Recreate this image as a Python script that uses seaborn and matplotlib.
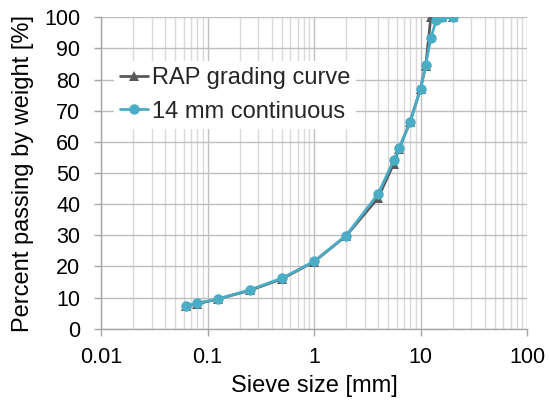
import matplotlib
matplotlib.use("Agg")
import matplotlib.pyplot as plt
import seaborn as sns
import pandas as pd
import numpy as np
from matplotlib.ticker import LogLocator, FixedLocator, NullFormatter

sieve_mm = [0.063, 0.08, 0.125, 0.25, 0.5, 1, 2, 4, 5.6, 6.3, 8, 10, 11.2, 12.5, 14, 16, 20]
rap_passing = [7.2, 8.0, 9.5, 12.3, 16.0, 21.5, 29.8, 42.0, 53.0, 57.8, 66.5, 77.0, 84.5, 100, 100, 100, 100]
cont_passing = [7.3, 8.2, 9.5, 12.5, 16.2, 21.6, 29.9, 43.3, 54.1, 58.0, 66.5, 77.0, 84.8, 93.3, 99.0, 100, 100]
series_names = ["RAP grading curve", "14 mm continuous"]
x_ticks = [0.01, 0.1, 1, 10, 100]
x_labels = ["0.01", "0.1", "1", "10", "100"]
y_ticks = list(range(0, 101, 10))

df = pd.concat([
    pd.DataFrame({"size": sieve_mm, "passing": rap_passing, "series": series_names[0]}),
    pd.DataFrame({"size": sieve_mm, "passing": cont_passing, "series": series_names[1]}),
])

sns.set_theme(style="white")
plt.rcParams["font.family"] = ["Liberation Sans", "DejaVu Sans"]

fig = plt.figure(figsize=(5.5, 4.05), dpi=100)
ax = fig.add_axes([101/550, 76.3/405, 426/550, 311.4/405])

colors = {series_names[0]: "#595959", series_names[1]: "#4bacc6"}
markers = {series_names[0]: "^", series_names[1]: "o"}
for name in series_names:
    sub = df[df["series"] == name]
    sns.lineplot(data=sub, x="size", y="passing", ax=ax, color=colors[name],
                 marker=markers[name], markersize=7.5 if name == series_names[1] else 6.5,
                 markeredgewidth=0, linewidth=2.0, label=name, sort=False)

ax.set_xscale("log")
ax.set_xlim(0.01, 100)
ax.set_ylim(0, 100)
ax.xaxis.set_major_locator(FixedLocator(x_ticks))
ax.set_xticklabels(x_labels)
ax.xaxis.set_minor_locator(LogLocator(base=10, subs=np.arange(2, 10), numticks=20))
ax.xaxis.set_minor_formatter(NullFormatter())
ax.yaxis.set_major_locator(FixedLocator(y_ticks))

ax.grid(True, which="major", axis="both", color="#bfbfbf", linewidth=1.0)
ax.grid(True, which="minor", axis="x", color="#d9d9d9", linewidth=1.0)
ax.set_axisbelow(True)

for side in ["top", "right"]:
    ax.spines[side].set_visible(False)
for side in ["left", "bottom"]:
    ax.spines[side].set_color("#a6a6a6")
    ax.spines[side].set_linewidth(1.0)

ax.tick_params(axis="both", which="major", direction="out", length=5, width=1.0,
               color="#a6a6a6", labelsize=15.5, labelcolor="black",
               left=True, bottom=True)
ax.tick_params(axis="y", which="major", pad=10)
ax.tick_params(axis="x", which="major", pad=8)
ax.tick_params(axis="x", which="minor", length=0)

ax.set_xlabel("Sieve size [mm]", fontsize=17, color="black", labelpad=5)
ax.set_ylabel("Percent passing by weight [%]", fontsize=17, color="black", labelpad=7)

leg = ax.legend(loc="upper left", bbox_to_anchor=(0.03, 0.86), fontsize=17,
                frameon=True, facecolor="white", edgecolor="none", framealpha=1,
                handlelength=1.2, handletextpad=0.15, borderpad=0.25,
                labelspacing=0.5, borderaxespad=0, fancybox=False)

fig.savefig("out.png", dpi=100)
